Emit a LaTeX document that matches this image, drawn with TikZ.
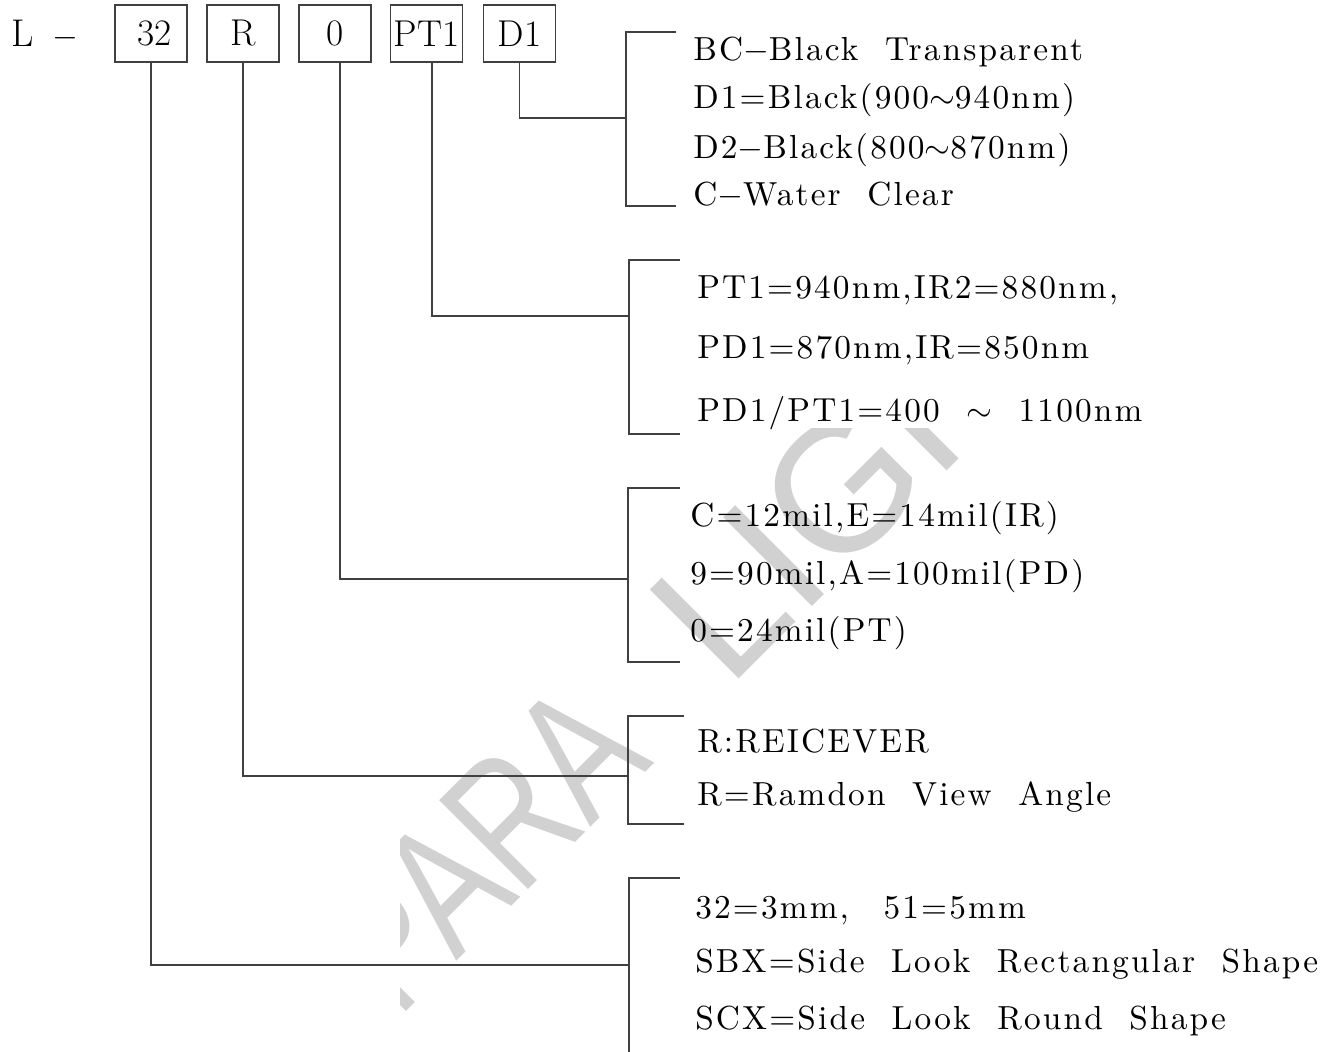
\documentclass[tikz,border=0pt]{standalone}
\usepackage{fontspec}
\usepackage{xcolor}
\newfontfamily\codefont{lmroman10-regular.otf}[LetterSpace=6.5,WordSpace=2]
\newfontfamily\markfont{Liberation Sans}
\newfontfamily\marknarrow{Liberation Sans}[FakeStretch=0.75]

\begin{document}
\begin{tikzpicture}[x=0.75pt,y=-0.75pt,
	codebox/.style={draw=black!75, line width=1pt, minimum width=54pt, minimum height=42.75pt, inner sep=0pt, font=\fontsize{28}{32}\selectfont},
	desc/.style={anchor=base west, inner sep=0pt, font=\fontsize{25}{30}\codefont},
	lead/.style={draw=black!75, line width=1pt},
	wmark/.style={anchor=base west, inner sep=0pt, rotate=45, text=black!18}]
	\useasboundingbox (0,0) rectangle (1343,1052);
	
	% Watermark behind everything
	\begin{scope}
		\clip (400,428) rectangle (1343,1052);
		\node[wmark, font=\fontsize{137}{140}\marknarrow] (wm1) at (398.5,1019.5) {PARA};
		\node[wmark, font=\fontsize{137}{140}\markfont] (wm2) at (728,690) {LIGHT};
	\end{scope}
	
	% Part number
	\node[anchor=base west, inner sep=0pt, font=\fontsize{29}{32}\selectfont] (pre) at (11,47) {L\hspace{14pt}$-$};
	\node[codebox] (b32) at (151,33.5) {\hspace*{5pt}32};
	\node[codebox] (bR) at (243,33.5) {R};
	\node[codebox] (b0) at (335,33.5) {0};
	\node[codebox] (bPT) at (426.5,33.5) {PT1};
	\node[codebox] (bD) at (519.5,33.5) {D1};
	
	% Bracket corners
	\coordinate (k1) at (626,118);
	\coordinate (k1t) at (676,32);
	\coordinate (k1b) at (676,206);
	\coordinate (k2) at (629,316);
	\coordinate (k2t) at (680,260);
	\coordinate (k2b) at (680,434);
	\coordinate (k3) at (628,579);
	\coordinate (k3t) at (680,488);
	\coordinate (k3b) at (680,662);
	\coordinate (k4) at (628,776);
	\coordinate (k4t) at (684,716);
	\coordinate (k4b) at (684,824);
	\coordinate (k5) at (629,965);
	\coordinate (k5t) at (680,878);
	\coordinate (k5b) at (629,1052);
	
	% Brackets
	\draw[lead] (k1t) -| (k1) |- (k1b);
	\draw[lead] (k2t) -| (k2) |- (k2b);
	\draw[lead] (k3t) -| (k3) |- (k3b);
	\draw[lead] (k4t) -| (k4) |- (k4b);
	\draw[lead] (k5t) -| (k5) -- (k5b);
	
	% Leads from the boxes
	\draw[lead] (bD.south) |- (k1);
	\draw[lead] ([xshift=4pt]bPT.south) |- (k2);
	\draw[lead] ([xshift=3.75pt]b0.south) |- (k3);
	\draw[lead] (bR.south) |- (k4);
	\draw[lead] (b32.south) |- (k5);
	
	% Lens colour
	\node[desc] (t11) at (693,61) {BC$-$Black Transparent};
	\node[desc] (t12) at (693,109) {D1=Black(900$\sim$940nm)};
	\node[desc] (t13) at (693,159) {D2$-$Black(800$\sim$870nm)};
	\node[desc] (t14) at (693,206) {C$-$Water Clear};
	
	% Wavelength
	\node[desc] (t21) at (697,298) {PT1=940nm,IR2=880nm,};
	\node[desc] (t22) at (697,358) {PD1=870nm,IR=850nm};
	\node[desc] (t23) at (697,421) {PD1/PT1=400 $\sim$ 1100nm};
	
	% Chip size
	\node[desc] (t31) at (690,526) {C=12mil,E=14mil(IR)};
	\node[desc] (t32) at (690,584) {9=90mil,A=100mil(PD)};
	\node[desc] (t33) at (690,641) {0=24mil(PT)};
	
	% Angle
	\node[desc] (t41) at (697,752) {R:REICEVER};
	\node[desc] (t42) at (697,805) {R=Ramdon View Angle};
	
	% Package
	\node[desc] (t51) at (695,918) {32=3mm,\hspace{6pt} 51=5mm};
	\node[desc] (t52) at (695,972) {SBX=Side Look Rectangular Shape};
	\node[desc] (t53) at (695,1029) {SCX=Side Look Round Shape};
\end{tikzpicture}
\end{document}
